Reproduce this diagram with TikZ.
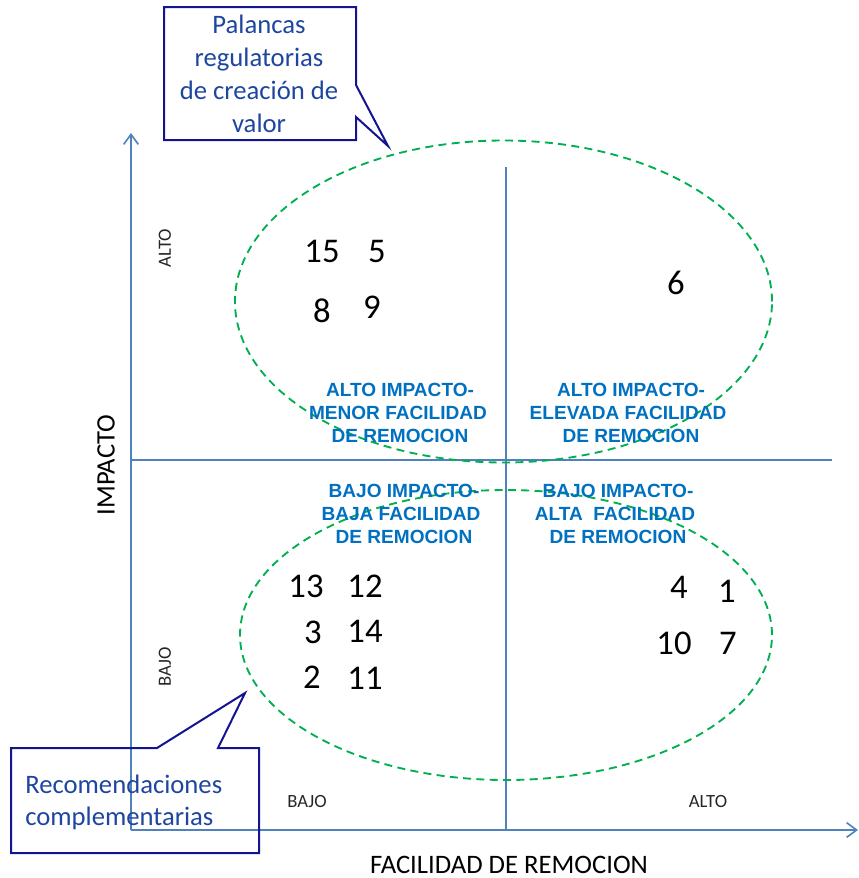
\documentclass[tikz,border=0pt]{standalone}
\usepackage{fontspec}
\setmainfont{Carlito}
\newfontfamily\arialbold{Liberation Sans}[BoldFont={Liberation Sans Bold}]
\usetikzlibrary{arrows.meta}
\definecolor{axisblue}{RGB}{79,129,189}
\definecolor{quadblue}{RGB}{0,112,192}
\definecolor{callborder}{RGB}{20,20,145}
\definecolor{calltext}{RGB}{30,70,160}
\definecolor{ellgreen}{RGB}{0,176,80}
\tikzset{
  axisline/.style={draw=axisblue, line width=1.5pt},
  axisarrow/.style={axisline, -{Straight Barb[length=7.5pt,width=11pt,line width=1.2pt]}},
  ellipsedash/.style={draw=ellgreen, line width=1.4pt, dash pattern=on 6pt off 4pt},
  callout/.style={draw=callborder, line width=1.5pt, line join=miter},
  calltxt/.style={anchor=base, inner sep=0pt, text=calltext, font=\fontsize{20}{24}\selectfont},
  quadtxt/.style={anchor=base, inner sep=0pt, text=quadblue, font=\arialbold\bfseries\fontsize{14.3}{17}\selectfont},
  numtxt/.style={anchor=base, inner sep=0pt, text=black, font=\fontsize{26}{30}\selectfont},
  smalltxt/.style={anchor=base, inner sep=0pt, text=black!85, font=\fontsize{14}{16}\selectfont},
  axtxt/.style={inner sep=0pt, text=black, font=\fontsize{20}{24}\selectfont},
}
\begin{document}
\begin{tikzpicture}[x=0.75pt,y=-0.75pt]
\useasboundingbox (0,0) rectangle (859,878);

% coordinates
\coordinate (origin) at (131,830);
\coordinate (ytip) at (131,133);
\coordinate (xtip) at (858,830);
\coordinate (vtop) at (506,167);
\coordinate (vbot) at (506,830);
\coordinate (hleft) at (131,460);
\coordinate (hright) at (832,460);

% dividers
\draw[axisline] (vtop) -- (vbot);
\draw[axisline] (hleft) -- (hright);
% axes
\draw[axisarrow] (origin) -- (ytip);
\draw[axisarrow] (origin) -- (xtip);

% ellipses
\draw[ellipsedash] (503.5,301.5) ellipse [x radius=201.4pt, y radius=120.75pt];
\draw[ellipsedash] (506,635) ellipse [x radius=199.5pt, y radius=108.75pt];

% callouts
\draw[callout] (164,7) -- (356,7) -- (356,85) -- (388,146) -- (356,117) -- (356,140) -- (164,140) -- cycle;
\node[calltxt] (pal1) at (259,33) {Palancas};
\node[calltxt] (pal2) at (259,66) {regulatorias};
\node[calltxt] (pal3) at (259,99) {de creación de};
\node[calltxt] (pal4) at (259,132) {valor};

\draw[callout] (11,748) -- (157,748) -- (245,693) -- (218,748) -- (259,748) -- (259,853) -- (11,853) -- cycle;
\node[calltxt, anchor=base west] (rec1) at (25,793) {Recomendaciones};
\node[calltxt, anchor=base west] (rec2) at (25,825) {complementarias};

% quadrant labels
\node[quadtxt] (q1a) at (400,396) {ALTO IMPACTO-};
\node[quadtxt] (q1b) at (398,419.5) {MENOR FACILIDAD};
\node[quadtxt] (q1c) at (400,442.5) {DE REMOCION};
\node[quadtxt] (q2a) at (631,396) {ALTO IMPACTO-};
\node[quadtxt] (q2b) at (628,419.5) {ELEVADA FACILIDAD};
\node[quadtxt] (q2c) at (631,442.5) {DE REMOCION};
\node[quadtxt] (q3a) at (404,497) {BAJO IMPACTO-};
\node[quadtxt] (q3b) at (401,520.5) {BAJA FACILIDAD};
\node[quadtxt] (q3c) at (404,543.5) {DE REMOCION};
\node[quadtxt] (q4a) at (618,497) {BAJO IMPACTO-};
\node[quadtxt] (q4b) at (615,520.5) {ALTA\ \ FACILIDAD};
\node[quadtxt] (q4c) at (618,543.5) {DE REMOCION};

% numbers
\node[numtxt] (n15) at (322,262) {15};
\node[numtxt] (n5) at (377,262) {5};
\node[numtxt] (n8) at (322,322) {8};
\node[numtxt] (n9) at (372,318) {9};
\node[numtxt] (n6) at (676,294) {6};
\node[numtxt] (n13) at (306,597) {13};
\node[numtxt] (n12) at (365,597) {12};
\node[numtxt] (n3) at (313,643) {3};
\node[numtxt] (n14) at (365,642) {14};
\node[numtxt] (n2) at (312,688) {2};
\node[numtxt] (n11) at (365,689) {11};
\node[numtxt] (n4) at (679,598) {4};
\node[numtxt] (n1) at (727,602) {1};
\node[numtxt] (n10) at (674,654) {10};
\node[numtxt] (n7) at (728,654) {7};

% axis tick labels
\node[smalltxt, anchor=center, rotate=90] (yalto) at (165,248) {ALTO};
\node[smalltxt, anchor=center, rotate=90] (ybajo) at (165,667) {BAJO};
\node[smalltxt] (xbajo) at (307,807) {BAJO};
\node[smalltxt] (xalto) at (708,807) {ALTO};

% axis titles
\node[axtxt, rotate=90, anchor=center] (ytitle) at (106,465) {IMPACTO};
\node[axtxt, anchor=base] (xtitle) at (509,873) {FACILIDAD DE REMOCION};
\end{tikzpicture}
\end{document}
